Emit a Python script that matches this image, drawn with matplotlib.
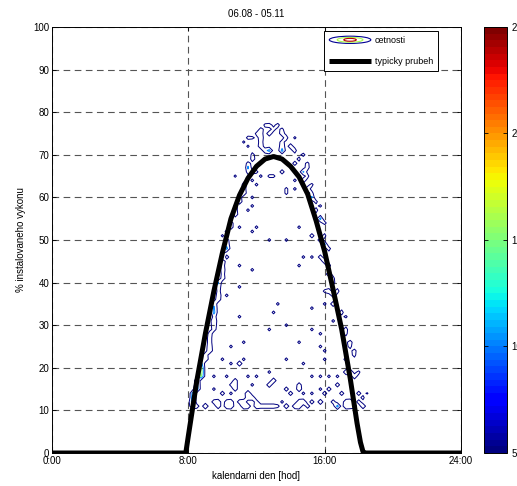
import numpy as np
import matplotlib
matplotlib.use("Agg")
import matplotlib.pyplot as plt
import matplotlib as mpl
from matplotlib.patches import Ellipse, Patch
from matplotlib.lines import Line2D
from matplotlib.legend_handler import HandlerBase

plt.rcParams["font.family"] = ["Liberation Sans", "DejaVu Sans"]
plt.rcParams["font.size"] = 7

# ---- texts and ticks -------------------------------------------------------
title = "06.08 - 05.11"
x_label = "kalendarni den [hod]"
y_label = "% instalovaneho vykonu"
legend_labels = ["cetnosti", "typicky prubeh"]
hour_ticks = [0, 8, 16, 24]
hour_tick_labels = ["0:00", "8:00", "16:00", "24:00"]
pct_ticks = list(range(0, 101, 10))
count_levels = [5, 10, 15, 20, 25]

# ---- typical daily profile (hour of day, % of installed power) -------------
profile_hours = [0, 7.0, 7.85, 8.0, 8.5, 9.0, 9.5, 10.0, 10.5, 11.0, 11.5, 12.0,
                 12.5, 13.0, 13.5, 14.0, 14.5, 15.0, 15.5, 16.0, 16.5, 17.0,
                 17.5, 17.9, 18.1, 18.25, 18.4, 24]
profile_pct = [0, 0, 0, 4, 17, 28, 38, 47, 55, 60.5, 64.5, 67.3,
               69.0, 69.6, 69.0, 67.3, 64.8, 60.8, 54.5, 47.3, 38.3, 29.0,
               17.5, 7.0, 2.5, 0.3, 0, 0]

# ---- sparse daytime background: upper limit of observed output per 15 min --
envelope_hours = [8.0, 8.25, 8.5, 8.75, 9.0, 9.25, 9.5, 9.75, 10.0, 10.25,
                  10.5, 10.75, 11.0, 11.25, 11.5, 11.75, 12.0, 12.25, 12.5,
                  12.75, 13.0, 13.25, 13.5, 13.75, 14.0, 14.25, 14.5, 14.75,
                  15.0, 15.25, 15.5, 15.75, 16.0, 16.25, 16.5, 16.75, 17.0,
                  17.25, 17.5, 17.75, 18.0, 18.25, 18.5]
envelope_top = [12, 15, 19, 23, 27, 31, 36, 40, 45, 49,
                53, 57, 61, 64, 68, 71, 74, 76, 77,
                77, 77, 77, 76, 75, 73, 72, 70, 68,
                66, 62, 59, 56, 52, 48, 43, 39, 34,
                30, 26, 22, 18, 14, 12]
envelope_floor = 10
background_count = 3

# ---- frequency counts: (hour, % of installed power, number of samples) -----
left_band = [
    (8.25, 11, 9), (8.25, 12, 13), (8.25, 13, 13), (8.25, 14, 12), (8.5, 15, 13),
    (8.5, 16, 12), (8.5, 17, 11), (8.75, 18, 16), (8.75, 19, 18), (8.75, 20, 17),
    (8.75, 21, 12), (9.0, 22, 9), (9.0, 23, 8), (9.25, 24, 9), (9.25, 25, 8),
    (9.25, 26, 7), (9.25, 27, 7), (9.25, 28, 8), (9.5, 29, 7), (9.5, 30, 8),
    (9.5, 31, 9), (9.5, 32, 7), (9.5, 33, 12), (9.5, 34, 11), (9.5, 35, 9),
    (9.75, 36, 8), (9.75, 37, 9), (9.75, 38, 7), (9.75, 39, 8), (9.75, 40, 11),
    (10.0, 41, 8), (10.0, 42, 7), (10.0, 43, 8), (10.0, 44, 7), (10.0, 45, 9),
    (10.25, 46, 7), (10.0, 47, 7), (10.25, 48, 12), (10.25, 49, 8), (10.25, 50, 7),
    (10.0, 51, 7), (10.25, 52, 8), (10.5, 53, 7), (10.5, 54, 7), (10.75, 56, 8),
    (10.75, 57, 7), (10.75, 58, 7), (11.0, 59, 8), (11.0, 60, 7),
]
crest = [
    (11.25, 61, 8), (11.25, 62, 7), (11.25, 63, 8), (10.75, 65, 7), (11.5, 66, 8),
    (11.75, 66, 7), (11.5, 67, 11), (11.5, 68, 8), (11.75, 69, 8), (11.75, 70, 7),
    (11.5, 72, 7), (11.25, 73, 7), (11.5, 74, 8), (11.75, 74, 7), (12.0, 75, 7),
    (12.25, 72, 8), (12.25, 73, 7), (12.25, 74, 8), (12.25, 75, 7), (12.25, 76, 8),
    (12.5, 77, 7), (12.75, 77, 8), (13.0, 76, 7), (13.25, 77, 8), (12.75, 75, 8),
    (12.75, 71, 12), (12.5, 71, 8), (13.5, 72, 8), (13.5, 73, 7), (13.5, 75, 8),
    (13.5, 76, 7), (13.5, 71, 12), (13.75, 74, 8), (14.0, 72, 8), (14.25, 74, 7),
    (14.25, 71, 8), (14.5, 69, 7), (14.75, 70, 8), (14.25, 68, 7), (14.75, 66, 11),
    (15.0, 67, 8), (15.0, 68, 7), (14.75, 64, 8), (15.0, 65, 7), (15.0, 62, 8),
    (15.25, 61, 7), (15.25, 63, 7), (15.25, 60, 11), (15.5, 59, 7), (15.5, 57, 8),
    (15.75, 58, 7),
]
right_band = [
    (15.75, 55, 12), (16.0, 54, 8), (15.25, 51, 7), (15.75, 50, 8), (16.0, 49, 12),
    (16.25, 48, 8), (16.0, 51, 7), (15.75, 46, 7), (16.0, 45, 8), (16.25, 44, 8),
    (16.25, 42, 8), (16.5, 41, 7), (16.5, 40, 8), (16.25, 38, 8), (16.5, 37, 7),
    (16.75, 38, 8), (16.5, 35, 8), (17.0, 33, 8), (17.25, 32, 7), (17.25, 29, 8),
    (17.25, 28, 7), (17.5, 26, 9), (17.5, 25, 7), (17.75, 24, 8), (17.75, 23, 7),
    (17.25, 19, 8), (17.5, 19, 9), (17.75, 18, 8), (18.0, 19, 7), (17.25, 11, 9),
    (17.25, 12, 8), (17.5, 11, 8), (17.5, 12, 9), (17.75, 11, 7), (18.0, 12, 7),
    (18.25, 11, 8), (18.25, 13, 7), (18.0, 14, 7), (18.5, 14, 6),
]
lower_scatter = [
    (8.5, 11, 7), (9.0, 11, 9), (9.5, 12, 7), (9.75, 11, 8), (9.75, 12, 8),
    (10.25, 11, 8), (10.5, 11, 9), (10.5, 12, 8), (10.25, 12, 7), (11.0, 12, 7),
    (11.25, 11, 9), (11.5, 11, 8), (11.25, 12, 8), (11.5, 13, 8), (12.0, 11, 8),
    (12.0, 12, 7), (11.75, 13, 8), (12.25, 11, 7), (12.5, 11, 7), (12.75, 11, 7),
    (13.0, 11, 7), (13.25, 11, 6), (13.5, 12, 6), (13.75, 11, 8), (14.25, 11, 8),
    (14.5, 11, 9), (14.5, 12, 8), (14.75, 12, 9), (15.0, 11, 7), (15.25, 12, 7),
    (15.75, 12, 8), (16.5, 12, 7), (16.75, 11, 12), (10.0, 14, 7), (10.5, 14, 6),
    (11.5, 14, 9), (14.0, 14, 7), (14.75, 14, 6), (15.25, 14, 6), (16.0, 14, 7),
    (17.0, 14, 7), (9.5, 15, 6), (10.75, 15, 7), (12.75, 16, 8), (13.0, 17, 8),
    (11.75, 16, 6), (10.5, 16, 6), (13.75, 15, 7), (14.5, 15, 8), (14.5, 16, 7),
    (15.75, 15, 6), (16.25, 15, 7), (16.75, 16, 7), (9.5, 18, 6), (10.25, 18, 6),
    (10.75, 17, 7), (10.75, 16, 7), (11.5, 18, 6), (12.0, 18, 6), (12.75, 19, 6),
    (15.25, 18, 6), (15.75, 18, 6), (16.25, 18, 6), (16.75, 18, 6), (10.5, 21, 6),
    (11.0, 21, 8), (10.0, 22, 6), (11.25, 22, 6), (13.75, 22, 6), (14.75, 21, 6),
    (16.0, 22, 6), (17.25, 22, 7), (10.5, 25, 6), (11.25, 26, 6), (14.5, 26, 6),
    (15.75, 25, 6), (16.0, 24, 6), (12.75, 29, 6), (13.75, 30, 6), (15.25, 29, 6),
    (15.75, 28, 6), (11.0, 32, 6), (16.5, 31, 6),
]
upper_scatter = [
    (13.5, 66, 7), (13.75, 62, 6), (13.75, 61, 6), (14.25, 64, 6), (14.25, 62, 6),
    (12.0, 66, 6), (12.25, 65, 6), (12.75, 65, 6), (13.0, 65, 6), (11.75, 64, 6),
    (12.0, 63, 6), (11.75, 60, 6), (11.5, 57, 6), (11.75, 58, 6), (14.5, 53, 6),
    (13.75, 50, 6), (14.75, 46, 6), (15.25, 46, 6), (14.5, 44, 6), (16.0, 38, 6),
    (16.0, 35, 6), (15.25, 34, 6), (11.75, 52, 6), (11.0, 53, 6), (12.0, 53, 6),
    (11.0, 44, 6), (12.75, 50, 6), (11.0, 39, 6), (10.25, 37, 6), (11.75, 43, 6),
    (13.25, 35, 6), (13.0, 33, 6),
]

# ---- histogram grid (15 min x 1 %) ----------------------------------------
hour_step = 0.25
hours_grid = np.arange(6.0, 20.0 + 1e-9, hour_step)
pct_grid = np.arange(0, 101)
counts = np.zeros((pct_grid.size, hours_grid.size))


def col_of(h):
    return int(round((h - hours_grid[0]) / hour_step))


for h, top in zip(envelope_hours, envelope_top):
    counts[envelope_floor:top + 1, col_of(h)] = background_count
for group in (left_band, crest, right_band, lower_scatter, upper_scatter):
    for h, p, c in group:
        j = col_of(h)
        counts[int(p), j] = max(counts[int(p), j], c)

# ---- figure ---------------------------------------------------------------
W, H = 517, 486
fig = plt.figure(figsize=(W / 100, H / 100), dpi=100)
ax = fig.add_axes([52 / W, 1 - 453 / H, 409 / W, 426 / H])

cmap = plt.get_cmap("jet", 64)
norm = mpl.colors.Normalize(vmin=count_levels[0], vmax=count_levels[-1])

ax.contour(hours_grid, pct_grid, counts, levels=count_levels, cmap=cmap,
           norm=norm, linewidths=0.7, zorder=2)
ax.plot(profile_hours, profile_pct, color="black", lw=3.6,
        solid_joinstyle="round", zorder=3)

ax.set_xlim(0, 24)
ax.set_ylim(0, 100)
ax.set_xticks(hour_ticks)
ax.set_xticklabels(hour_tick_labels)
ax.set_yticks(pct_ticks)
ax.tick_params(direction="in", top=True, right=True, length=3, width=0.6,
               labelsize=7, pad=2)
ax.grid(True, color="#555555", linestyle=(0, (6, 4)), linewidth=0.8)
for s in ax.spines.values():
    s.set_linewidth(0.7)
ax.set_title(title, fontsize=7, pad=7)
ax.set_xlabel(x_label, fontsize=7, labelpad=4)
ax.set_ylabel(y_label, fontsize=7, labelpad=5)


class HandlerContourIcon(HandlerBase):
    """Legend key drawn as nested contour rings."""

    def create_artists(self, legend, orig_handle, xdescent, ydescent, width,
                       height, fontsize, trans):
        cx = width / 2 - xdescent
        cy = height / 2 - ydescent
        rings = [(1.0, 1.15, cmap(0.02)), (0.62, 0.75, cmap(0.55)),
                 (0.3, 0.45, cmap(0.95))]
        arts = []
        for fw, fh, col in rings:
            arts.append(Ellipse((cx, cy), width * fw, height * fh, fill=False,
                                edgecolor=col, lw=0.8, transform=trans))
        return arts


contour_key = Patch()
line_key = Line2D([], [], color="black", lw=3.6, solid_capstyle="butt")
leg = ax.legend([contour_key, line_key], legend_labels,
                handler_map={contour_key: HandlerContourIcon()},
                loc="upper right", bbox_to_anchor=(0.944, 0.9906),
                borderaxespad=0, prop={"size": 6.5}, fancybox=False,
                framealpha=1, edgecolor="black", handlelength=4.6,
                handletextpad=0.45, borderpad=0.55, labelspacing=1.3)
leg.get_frame().set_linewidth(0.7)

# ---- colour bar ----------------------------------------------------------
cax = fig.add_axes([484 / W, 1 - 453 / H, 23 / W, 426 / H])
cb = mpl.colorbar.ColorbarBase(cax, cmap=cmap, norm=norm, ticks=count_levels)
cb.outline.set_linewidth(0.7)
cax.tick_params(direction="in", left=True, right=True, length=3, width=0.6,
                labelsize=7, pad=3)

fig.savefig("out.png", dpi=100)
